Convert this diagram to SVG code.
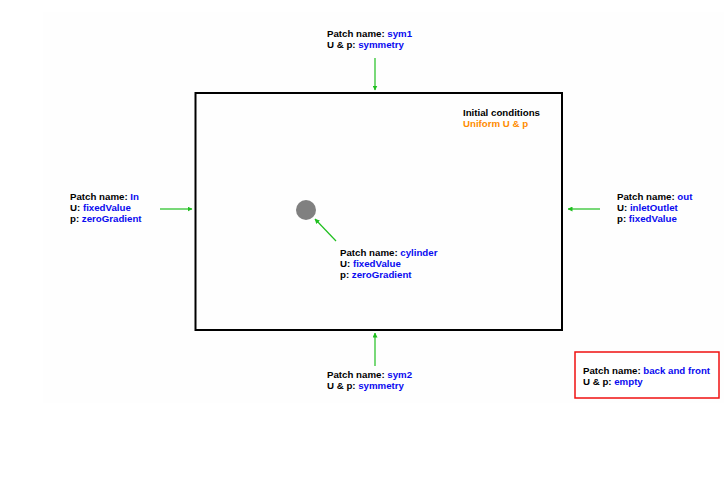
<svg xmlns="http://www.w3.org/2000/svg" width="724" height="479" viewBox="0 0 724 479">
<defs>
<marker id="ah" viewBox="0 0 10 10" refX="9" refY="5" markerWidth="5" markerHeight="5" orient="auto" markerUnits="userSpaceOnUse"><path d="M0,0 L10,5 L0,10 z" fill="#1fbf1f"/></marker>
<style>
text{font-family:"Liberation Sans",Arial,sans-serif;font-size:9.7px;font-weight:bold;fill:#000}
.v{fill:#0a0af0}
.o{fill:#ff8c00}
.c{stroke:#1fbf1f;stroke-width:1.2;fill:none;marker-end:url(#ah)}
</style>
</defs>
<rect width="724" height="479" fill="#fff"/>
<rect x="43" y="12" width="681" height="391" fill="#fefefe"/>
<g id="domain"><rect x="195.5" y="93" width="366.5" height="237" fill="#fefefe" stroke="#000" stroke-width="2"/></g>
<g id="cylinder"><circle cx="306" cy="210" r="10" fill="#808080"/></g>
<g id="connectors">
<line class="c" x1="375" y1="58" x2="375" y2="90"/>
<line class="c" x1="375" y1="366" x2="375" y2="333"/>
<line class="c" x1="160" y1="209" x2="192" y2="209"/>
<line class="c" x1="600" y1="209" x2="568" y2="209"/>
<line class="c" x1="336" y1="241" x2="315" y2="219"/>
</g>
<g id="sym1"><text x="327" y="37">Patch name: <tspan class="v">sym1</tspan></text><text x="327" y="48">U &amp; p: <tspan class="v">symmetry</tspan></text></g>
<g id="initial"><text x="463" y="116">Initial conditions</text><text x="463" y="127" class="o">Uniform U &amp; p</text></g>
<g id="in"><text x="70" y="200">Patch name: <tspan class="v">In</tspan></text><text x="70" y="211">U: <tspan class="v">fixedValue</tspan></text><text x="70" y="222">p: <tspan class="v">zeroGradient</tspan></text></g>
<g id="cyl-label"><text x="340" y="256">Patch name: <tspan class="v">cylinder</tspan></text><text x="340" y="267">U: <tspan class="v">fixedValue</tspan></text><text x="340" y="278">p: <tspan class="v">zeroGradient</tspan></text></g>
<g id="out"><text x="617" y="200">Patch name: <tspan class="v">out</tspan></text><text x="617" y="211">U: <tspan class="v">inletOutlet</tspan></text><text x="617" y="222">p: <tspan class="v">fixedValue</tspan></text></g>
<g id="sym2"><text x="327" y="378">Patch name: <tspan class="v">sym2</tspan></text><text x="327" y="389">U &amp; p: <tspan class="v">symmetry</tspan></text></g>
<g id="backfront"><rect x="575" y="352" width="144" height="46" fill="#fff" stroke="#f01010" stroke-width="1.5"/><text x="583" y="374">Patch name: <tspan class="v">back and front</tspan></text><text x="583" y="385">U &amp; p: <tspan class="v">empty</tspan></text></g>
</svg>
